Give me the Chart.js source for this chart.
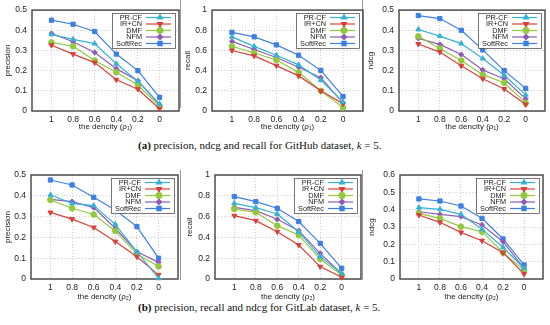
<!DOCTYPE html>
<html>
<head>
<meta charset="utf-8">
<title>density charts</title>
<script src="https://cdn.jsdelivr.net/npm/chart.js@4.4.0/dist/chart.umd.min.js"></script>
<style>
    body { margin: 0; width: 550px; height: 325px; background: #fff; position: relative; overflow: hidden; }
    canvas { position: absolute; }
    .cap {
        position: absolute;
        left: 138px;
        font-family: "Liberation Serif", "DejaVu Serif", serif;
        font-size: 11px;
        line-height: 13px;
        color: #111;
        white-space: nowrap;
    }
    .edge { position: absolute; width: 1px; background: #9a9a9a; }
</style>
</head>
<body>

<div class="edge" style="left:180px;top:0;height:108px"></div>
<div class="edge" style="left:362px;top:0;height:108px"></div>
<div class="edge" style="left:180px;top:170px;height:110px"></div>
<div class="edge" style="left:362px;top:170px;height:110px"></div>

<div class="cap" style="top:139px"><b>(a)</b> precision, ndcg and recall for GitHub dataset, <i>k</i> = 5.</div>
<div class="cap" style="top:301px"><b>(b)</b> precision, recall and ndcg for GitLab dataset, <i>k</i> = 5.</div>

<script>
// x values (density) and their labels
const density = [1, 0.8, 0.6, 0.4, 0.2, 0];
const densityLabels = ['1', '0.8', '0.6', '0.4', '0.2', '0'];
const methods = ['PR-CF', 'IR+CN', 'DMF', 'NFM', 'SoftRec'];

// y tick labels
const ticksTo05 = ['0', '0.1', '0.2', '0.3', '0.4', '0.5'];
const ticksTo1 = ['0', '0.2', '0.4', '0.6', '0.8', '1'];
const ticksTo06 = ['0', '0.1', '0.2', '0.3', '0.4', '0.5', '0.6'];

// GitHub, rows in the order of methods
const ghPrecision = [
    [0.38, 0.355, 0.334, 0.234, 0.148, 0.035],
    [0.326, 0.282, 0.24, 0.155, 0.108, 0.011],
    [0.34, 0.321, 0.25, 0.192, 0.129, 0.023],
    [0.384, 0.343, 0.29, 0.21, 0.15, 0.03],
    [0.45, 0.43, 0.394, 0.282, 0.2, 0.068]
];
const ghRecall = [
    [0.735, 0.64, 0.553, 0.457, 0.307, 0.09],
    [0.6, 0.546, 0.45, 0.348, 0.2, 0.073],
    [0.642, 0.575, 0.505, 0.383, 0.2, 0.035],
    [0.69, 0.61, 0.53, 0.434, 0.33, 0.08],
    [0.78, 0.735, 0.655, 0.553, 0.403, 0.144]
];
const ghNdcg = [
    [0.404, 0.371, 0.334, 0.26, 0.177, 0.08],
    [0.332, 0.292, 0.224, 0.16, 0.109, 0.032],
    [0.37, 0.31, 0.25, 0.18, 0.14, 0.04],
    [0.36, 0.33, 0.28, 0.203, 0.16, 0.06],
    [0.473, 0.458, 0.4, 0.303, 0.2, 0.112]
];

// GitLab
const glPrecision = [
    [0.404, 0.364, 0.353, 0.263, 0.131, 0.003],
    [0.32, 0.288, 0.248, 0.18, 0.107, 0.02],
    [0.38, 0.34, 0.31, 0.231, 0.12, 0.06],
    [0.383, 0.372, 0.343, 0.244, 0.131, 0.08],
    [0.476, 0.452, 0.393, 0.332, 0.252, 0.1]
];
const glRecall = [
    [0.728, 0.686, 0.625, 0.455, 0.215, 0.054],
    [0.609, 0.561, 0.455, 0.327, 0.119, 0.016],
    [0.673, 0.641, 0.513, 0.423, 0.192, 0.038],
    [0.689, 0.657, 0.574, 0.465, 0.247, 0.048],
    [0.792, 0.744, 0.68, 0.552, 0.343, 0.103]
];
const glNdcg = [
    [0.412, 0.402, 0.373, 0.287, 0.183, 0.062],
    [0.369, 0.327, 0.269, 0.221, 0.152, 0.029],
    [0.379, 0.35, 0.302, 0.273, 0.152, 0.052],
    [0.388, 0.373, 0.36, 0.312, 0.215, 0.062],
    [0.462, 0.45, 0.421, 0.35, 0.231, 0.081]
];

const colors = ['#36b1d6', '#d8413a', '#92c83e', '#8e5cb8', '#3d7fe3'];
const styles = ['triangle', 'triangle', 'circle', 'rectRot', 'rect'];
const rotations = [0, 180, 0, 0, 0];
const radii = [2.9, 2.9, 2.8, 2.6, 3];

const FONT = '"Liberation Sans", Arial, sans-serif';

// frame around the plot area (gnuplot style)
const framePlugin = {
    id: 'frame',
    beforeDatasetsDraw(chart) {
        const { ctx, chartArea: a } = chart;
        ctx.save();
        ctx.strokeStyle = '#4d4d4d';
        ctx.lineWidth = 1.5;
        ctx.strokeRect(a.left, a.top, a.right - a.left, a.bottom - a.top);
        ctx.restore();
    }
};

// legend box: text on the left, line sample with marker on the right
const boxLegend = {
    id: 'boxLegend',
    afterDatasetsDraw(chart) {
        const { ctx, chartArea: a } = chart;
        const w = 63, h = 35;
        const bx = Math.round(a.right - 4 - w), by = Math.round(a.top + 3);
        ctx.save();
        ctx.fillStyle = '#fff';
        ctx.fillRect(bx, by, w, h);
        ctx.strokeStyle = '#555';
        ctx.lineWidth = 0.8;
        ctx.strokeRect(bx + 0.5, by + 0.5, w, h);
        ctx.font = '7.3px ' + FONT;
        ctx.textAlign = 'right';
        ctx.textBaseline = 'middle';
        chart.data.datasets.forEach((ds, i) => {
            const y = by + 4.5 + i * 6.5;
            ctx.fillStyle = '#222';
            ctx.fillText(ds.label, bx + 30, y);
            ctx.strokeStyle = ds.borderColor;
            ctx.lineWidth = 1.2;
            ctx.beginPath();
            ctx.moveTo(bx + 34, y);
            ctx.lineTo(bx + 59, y);
            ctx.stroke();
            ctx.fillStyle = ds.pointBackgroundColor;
            Chart.helpers.drawPoint(ctx, {
                pointStyle: ds.pointStyle,
                rotation: ds.pointRotation || 0,
                radius: ds.pointRadius,
                borderWidth: 1
            }, bx + 48, y);
        });
        ctx.restore();
    }
};

const panels = [
    { series: ghPrecision, yTitle: 'precision', yTicks: ticksTo05, sub: '\u2081', x0: 3,   L: 32,  R: 182, y0: 0,   T: 7,   B: 111, H: 132 },
    { series: ghRecall,    yTitle: 'recall',    yTicks: ticksTo1,  sub: '\u2081', x0: 183, L: 212, R: 366, y0: 0,   T: 7,   B: 111, H: 132 },
    { series: ghNdcg,      yTitle: 'ndcg',      yTicks: ticksTo05, sub: '\u2081', x0: 366, L: 399, R: 548, y0: 0,   T: 7,   B: 111, H: 132 },
    { series: glPrecision, yTitle: 'precision', yTicks: ticksTo05, sub: '\u2082', x0: 3,   L: 31,  R: 181, y0: 160, T: 175, B: 279, H: 142 },
    { series: glRecall,    yTitle: 'recall',    yTicks: ticksTo1,  sub: '\u2082', x0: 185, L: 215, R: 364, y0: 160, T: 175, B: 279, H: 142 },
    { series: glNdcg,      yTitle: 'ndcg',      yTicks: ticksTo06, sub: '\u2082', x0: 367, L: 400, R: 546, y0: 160, T: 175, B: 279, H: 142 }
];

panels.forEach(p => {
    const W = p.R + 2 - p.x0;
    const cv = document.createElement('canvas');
    cv.width = W;
    cv.height = p.H;
    cv.style.left = p.x0 + 'px';
    cv.style.top = p.y0 + 'px';
    document.body.appendChild(cv);

    const datasets = methods.map((m, i) => ({
        label: m,
        data: density.map((d, j) => ({ x: d, y: p.series[i][j] })),
        borderColor: colors[i],
        backgroundColor: colors[i],
        pointBackgroundColor: colors[i],
        pointBorderColor: colors[i],
        pointStyle: styles[i],
        pointRotation: rotations[i],
        pointRadius: radii[i],
        pointBorderWidth: 1,
        borderWidth: 1.2,
        tension: 0,
        clip: 6
    }));

    const yLabels = p.yTicks;
    const yMax = parseFloat(yLabels[yLabels.length - 1]);

    new Chart(cv.getContext('2d'), {
        type: 'line',
        data: { datasets: datasets },
        options: {
            responsive: false,
            animation: false,
            layout: { padding: { top: p.T - p.y0, right: 2, left: 0, bottom: 0 } },
            plugins: { legend: { display: false }, tooltip: { enabled: false } },
            scales: {
                x: {
                    type: 'linear',
                    reverse: true,
                    min: -0.18,
                    max: 1.18,
                    afterBuildTicks: s => { s.ticks = density.map(v => ({ value: v })); },
                    afterFit: s => { s.height = p.H - (p.B - p.y0); },
                    grid: { color: '#cdcdcd', lineWidth: 1, drawTicks: false },
                    border: { display: false, dash: [1, 2] },
                    ticks: {
                        padding: 4,
                        color: '#222',
                        font: { family: FONT, size: 8.5 },
                        maxRotation: 0,
                        autoSkip: false,
                        callback: (v, i) => densityLabels[i]
                    },
                    title: {
                        display: true,
                        text: 'the dencity (\u03c1' + p.sub + ')',
                        color: '#222',
                        font: { family: FONT, size: 8 },
                        padding: { top: 0, bottom: 0 }
                    }
                },
                y: {
                    min: 0,
                    max: yMax,
                    afterBuildTicks: s => { s.ticks = yLabels.map(l => ({ value: parseFloat(l) })); },
                    afterFit: s => { s.width = p.L - p.x0; },
                    grid: { color: '#cdcdcd', lineWidth: 1, drawTicks: false },
                    border: { display: false, dash: [1, 2] },
                    ticks: {
                        padding: 5,
                        color: '#222',
                        font: { family: FONT, size: 8.5 },
                        autoSkip: false,
                        callback: (v, i) => yLabels[i]
                    },
                    title: {
                        display: true,
                        text: p.yTitle,
                        color: '#222',
                        font: { family: FONT, size: 8 },
                        padding: 0
                    }
                }
            }
        },
        plugins: [framePlugin, boxLegend]
    });
});
</script>
</body>
</html>
